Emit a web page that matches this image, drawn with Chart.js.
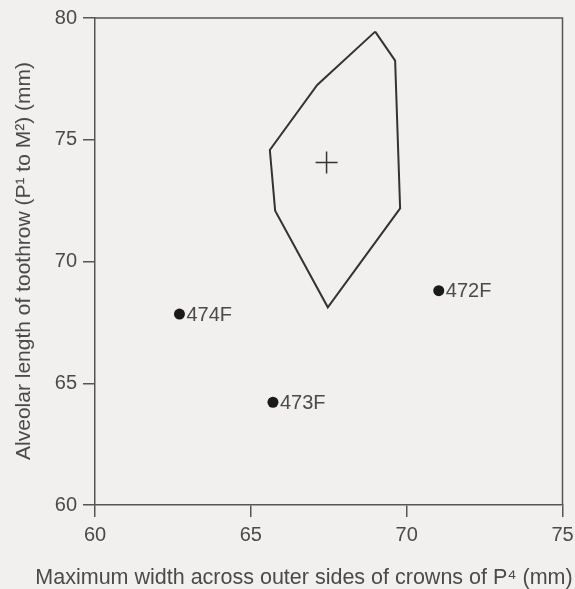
<!DOCTYPE html>
<html>
<head>
<meta charset="utf-8">
<script src="https://cdn.jsdelivr.net/npm/chart.js@4"></script>
<style>
  html, body { margin: 0; padding: 0; background: #f1f0ee; }
  #wrap { width: 575px; height: 589px; }
</style>
</head>
<body>
<div id="wrap"><canvas id="chart" width="575" height="589"></canvas></div>
<script>
// Specimen points
const specimenNames = ["474F", "473F", "472F"];
const specimenX = [62.71, 65.71, 71.03];
const specimenY = [67.84, 64.22, 68.80];

// Range polygon (closed) and its mean
const rangeX = [68.99, 69.63, 69.79, 67.47, 65.78, 65.61, 67.13, 68.99];
const rangeY = [79.44, 78.25, 72.18, 68.12, 72.09, 74.58, 77.25, 79.44];
const meanX = [67.43];
const meanY = [74.07];

// Axes
const xTicks = [60, 65, 70, 75];
const yTicks = [60, 65, 70, 75, 80];
const xTitle = "Maximum width across outer sides of crowns of P\u2074 (mm)";
const yTitle = "Alveolar length of toothrow (P\u00B9 to M\u00B2) (mm)";

const INK = '#333';
const TEXT = '#4a4a4a';
const FONT = 'Arial, "Liberation Sans", Helvetica, sans-serif';

const zip = (xs, ys) => xs.map((x, i) => ({ x, y: ys[i] }));

const ctx = document.getElementById('chart').getContext('2d');

new Chart(ctx, {
  type: 'scatter',
  data: {
    datasets: [
      {
        label: 'range',
        data: zip(rangeX, rangeY),
        showLine: true,
        borderColor: INK,
        borderWidth: 2,
        pointRadius: 0,
        fill: false,
        tension: 0
      },
      {
        label: 'mean',
        data: zip(meanX, meanY),
        pointStyle: 'cross',
        pointRadius: 11,
        borderColor: INK,
        borderWidth: 1.5
      },
      {
        label: 'specimens',
        data: zip(specimenX, specimenY),
        pointRadius: 5.5,
        backgroundColor: '#1a1a1a',
        borderColor: '#1a1a1a',
        borderWidth: 0
      }
    ]
  },
  options: {
    responsive: false,
    animation: false,
    layout: { padding: { top: 18, right: 0, left: 0, bottom: 0 } },
    scales: {
      x: {
        type: 'linear',
        min: 60,
        max: 75,
        afterBuildTicks: s => { s.ticks = xTicks.map(v => ({ value: v })); },
        afterFit: s => { s.height = 589 - 505; s.paddingRight = 11; },
        ticks: { color: TEXT, font: { family: FONT, size: 20 }, padding: 6 },
        grid: { drawOnChartArea: false, tickLength: 12, color: '#555', lineWidth: 1.5 },
        border: { color: '#555', width: 1.5 }
      },
      y: {
        type: 'linear',
        min: 60,
        max: 80,
        afterBuildTicks: s => { s.ticks = yTicks.map(v => ({ value: v })); },
        afterFit: s => { s.width = 95; },
        ticks: { color: TEXT, font: { family: FONT, size: 20 }, padding: 6 },
        grid: { drawOnChartArea: false, tickLength: 12, color: '#555', lineWidth: 1.5 },
        border: { color: '#555', width: 1.5 }
      }
    },
    plugins: {
      legend: { display: false },
      tooltip: { enabled: false }
    }
  },
  plugins: [{
    id: 'frameAndLabels',
    afterDraw(chart) {
      const { ctx, chartArea: { left, top, right, bottom } } = chart;
      ctx.save();
      // frame top and right
      ctx.strokeStyle = '#555';
      ctx.lineWidth = 1.5;
      ctx.beginPath();
      ctx.moveTo(left, top);
      ctx.lineTo(right, top);
      ctx.lineTo(right, bottom);
      ctx.stroke();

      // specimen labels
      ctx.fillStyle = TEXT;
      ctx.font = '20px ' + FONT;
      ctx.textAlign = 'left';
      ctx.textBaseline = 'middle';
      const meta = chart.getDatasetMeta(2);
      meta.data.forEach((pt, i) => {
        ctx.fillText(specimenNames[i], pt.x + 7, pt.y + 1);
      });

      // axis titles
      ctx.font = '21.5px ' + FONT;
      ctx.textAlign = 'center';
      ctx.fillText(xTitle, 304, 578);
      ctx.translate(24, 261);
      ctx.rotate(-Math.PI / 2);
      ctx.font = '21px ' + FONT;
      ctx.fillText(yTitle, 0, 0);
      ctx.restore();
    }
  }]
});
</script>
</body>
</html>
